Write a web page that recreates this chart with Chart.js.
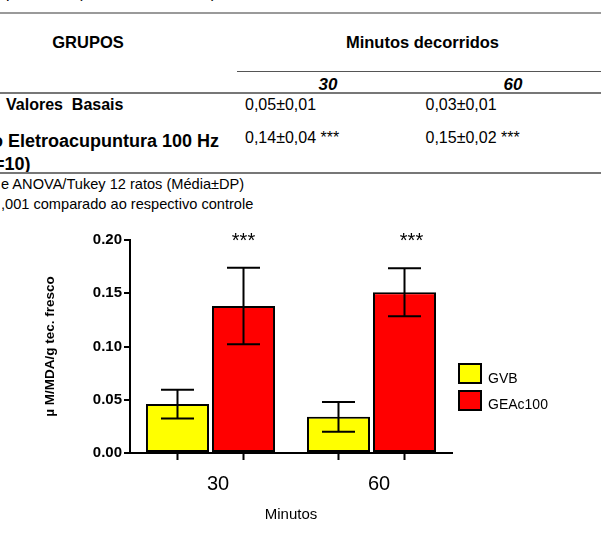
<!DOCTYPE html>
<html><head><meta charset="utf-8">
<script src="https://cdn.jsdelivr.net/npm/chart.js@4"></script>
<style>
html,body{margin:0;padding:0;background:#fff;width:601px;height:538px;overflow:hidden;}
body{position:relative;font-family:"Liberation Sans",Arial,sans-serif;color:#000;}
.t{position:absolute;white-space:pre;line-height:1;}
.b{font-weight:bold;}
.hl{position:absolute;height:0;}
#c{position:absolute;left:0;top:0;}
.lg{position:absolute;box-sizing:border-box;border:2px solid #000;width:24px;height:21px;}
</style></head><body>
<div class="t" style="left:6px;top:-15px;font-size:16px;">pulmonar (Média, n=12 ratos)</div>
<div class="hl" style="left:0;top:12px;width:601px;border-top:2px solid #9a9a9a;"></div>
<div class="t b" style="left:88px;top:34.4px;font-size:16.5px;transform:translateX(-50%);">GRUPOS</div>
<div class="t b" style="left:422.5px;top:34.4px;font-size:16.5px;transform:translateX(-50%);">Minutos decorridos</div>
<div class="hl" style="left:237px;top:71px;width:364px;border-top:1px solid #555;"></div>
<div class="t b" style="left:328px;top:75.7px;font-size:17px;font-style:italic;transform:translateX(-50%);">30</div>
<div class="t b" style="left:513px;top:75.7px;font-size:17px;font-style:italic;transform:translateX(-50%);">60</div>
<div class="hl" style="left:0;top:92px;width:601px;border-top:2px solid #777;"></div>
<div class="t b" style="left:6px;top:96.6px;font-size:16px;">Valores  Basais</div>
<div class="t" style="left:245px;top:96.7px;font-size:16px;">0,05±0,01</div>
<div class="t" style="left:425.5px;top:96.7px;font-size:16px;">0,03±0,01</div>
<div class="t b" style="right:593px;top:131.5px;font-size:18px;">Grupo </div>
<div class="t b" style="left:8px;top:131.5px;font-size:18px;">Eletroacupuntura 100 Hz</div>
<div class="t b" style="right:607px;top:154.5px;font-size:18px;">(n</div>
<div class="t b" style="left:-6px;top:154.5px;font-size:18px;">=10)</div>
<div class="t" style="left:245px;top:130.2px;font-size:16px;">0,14±0,04 ***</div>
<div class="t" style="left:425.5px;top:130.2px;font-size:16px;">0,15±0,02 ***</div>
<div class="hl" style="left:0;top:172px;width:601px;border-top:2px solid #777;"></div>
<div class="t" style="right:603px;top:176.8px;font-size:14.6px;">Test</div>
<div class="t" style="left:1px;top:176.8px;font-size:14.6px;">e ANOVA/Tukey 12 ratos (Média±DP)</div>
<div class="t" style="right:603px;top:196.8px;font-size:14.6px;">***p&lt;0</div>
<div class="t" style="left:1px;top:196.8px;font-size:14.6px;">,001 comparado ao respectivo controle</div>
<canvas id="c" width="601" height="538"></canvas>
<div id="legend"></div>
<script>
const categories = ['30', '60'];
const seriesNames = ['GVB', 'GEAc100'];
const seriesColors = ['#FFFF00', '#FF0000'];
const gvbMean = [0.046, 0.034];
const gvbSD = [0.0135, 0.014];
const geacMean = [0.138, 0.151];
const geacSD = [0.036, 0.0225];
const yTicks = [0.00, 0.05, 0.10, 0.15, 0.20];
const significance = ['***', '***'];
const yTitle = 'µ M/MDA/g tec. fresco';
const xTitle = 'Minutos';

Chart.defaults.font.family = '"Liberation Sans", Arial, sans-serif';
Chart.defaults.color = '#000';

const errorBars = {
  id: 'errorBars',
  afterDatasetsDraw(chart, args, opts) {
    const { ctx, scales: { y }, chartArea } = chart;
    ctx.save();
    ctx.strokeStyle = '#000';
    ctx.lineWidth = 2;
    chart.data.datasets.forEach((ds, i) => {
      const meta = chart.getDatasetMeta(i);
      meta.data.forEach((bar, j) => {
        const m = ds.data[j], s = ds.sd[j];
        const yt = y.getPixelForValue(m + s), yb = y.getPixelForValue(m - s);
        const x = bar.x, hw = opts.capWidth / 2;
        ctx.beginPath();
        ctx.moveTo(x, yt); ctx.lineTo(x, yb);
        ctx.moveTo(x - hw, yt); ctx.lineTo(x + hw, yt);
        ctx.moveTo(x - hw, yb); ctx.lineTo(x + hw, yb);
        ctx.moveTo(x, chartArea.bottom); ctx.lineTo(x, chartArea.bottom + 7);
        ctx.stroke();
      });
    });
    // significance marks above the treated group
    const meta = chart.getDatasetMeta(1);
    ctx.fillStyle = '#000';
    ctx.font = '20px "Liberation Sans", Arial, sans-serif';
    ctx.textAlign = 'center';
    ctx.textBaseline = 'alphabetic';
    meta.data.forEach((bar, j) => {
      ctx.fillText(significance[j], bar.x + opts.starDx[j], y.getPixelForValue(0.2) + 7);
    });
    ctx.restore();
  }
};

const chart = new Chart(document.getElementById('c'), {
  type: 'bar',
  data: {
    labels: categories,
    datasets: [
      { label: seriesNames[0], data: gvbMean, sd: gvbSD, backgroundColor: seriesColors[0],
        borderColor: '#000', borderWidth: 2, borderSkipped: false },
      { label: seriesNames[1], data: geacMean, sd: geacSD, backgroundColor: seriesColors[1],
        borderColor: '#000', borderWidth: 2, borderSkipped: false }
    ]
  },
  options: {
    responsive: false,
    animation: false,
    devicePixelRatio: 1,
    categoryPercentage: 0.82,
    barPercentage: 0.955,
    layout: { padding: { left: 0, top: 240, right: 149, bottom: 0 } },
    plugins: {
      legend: { display: false },
      tooltip: { enabled: false },
      errorBars: { capWidth: 33, starDx: [0, 7] }
    },
    scales: {
      x: {
        grid: { display: false },
        border: { display: true, color: '#000', width: 2 },
        ticks: { font: { size: 20 }, color: '#000', padding: 11, labelOffset: 7.5 },
        title: { display: true, text: xTitle, font: { size: 15 }, color: '#000', padding: { top: 0, bottom: 14 } },
        afterFit(scale) { scale.height = 85; }
      },
      y: {
        min: 0, max: 0.2,
        afterBuildTicks(scale) { scale.ticks = yTicks.map(v => ({ value: v })); },
        grid: { display: true, drawOnChartArea: false, drawTicks: true, tickLength: 6, color: '#000', lineWidth: 2 },
        border: { display: true, color: '#000', width: 2 },
        ticks: { font: { size: 15, weight: 'bold' }, color: '#000', padding: 2,
                 callback: v => Number(v).toFixed(2) },
        title: { display: true, text: yTitle, font: { size: 13.5, weight: 'bold' }, color: '#000', padding: { top: 42, bottom: 0 } },
        afterFit(scale) { scale.width = 130; }
      }
    }
  },
  plugins: [errorBars]
});

// legend built from the datasets
const lg = document.getElementById('legend');
const boxTops = [363, 390];
const textTops = [371.4, 396.6];
chart.data.datasets.forEach((ds, i) => {
  const box = document.createElement('div');
  box.className = 'lg';
  box.style.left = '458px';
  box.style.top = boxTops[i] + 'px';
  box.style.background = ds.backgroundColor;
  lg.appendChild(box);
  const t = document.createElement('div');
  t.className = 't';
  t.style.left = '488px';
  t.style.top = textTops[i] + 'px';
  t.style.fontSize = '14px';
  t.textContent = ds.label;
  lg.appendChild(t);
});
</script>
</body></html>
